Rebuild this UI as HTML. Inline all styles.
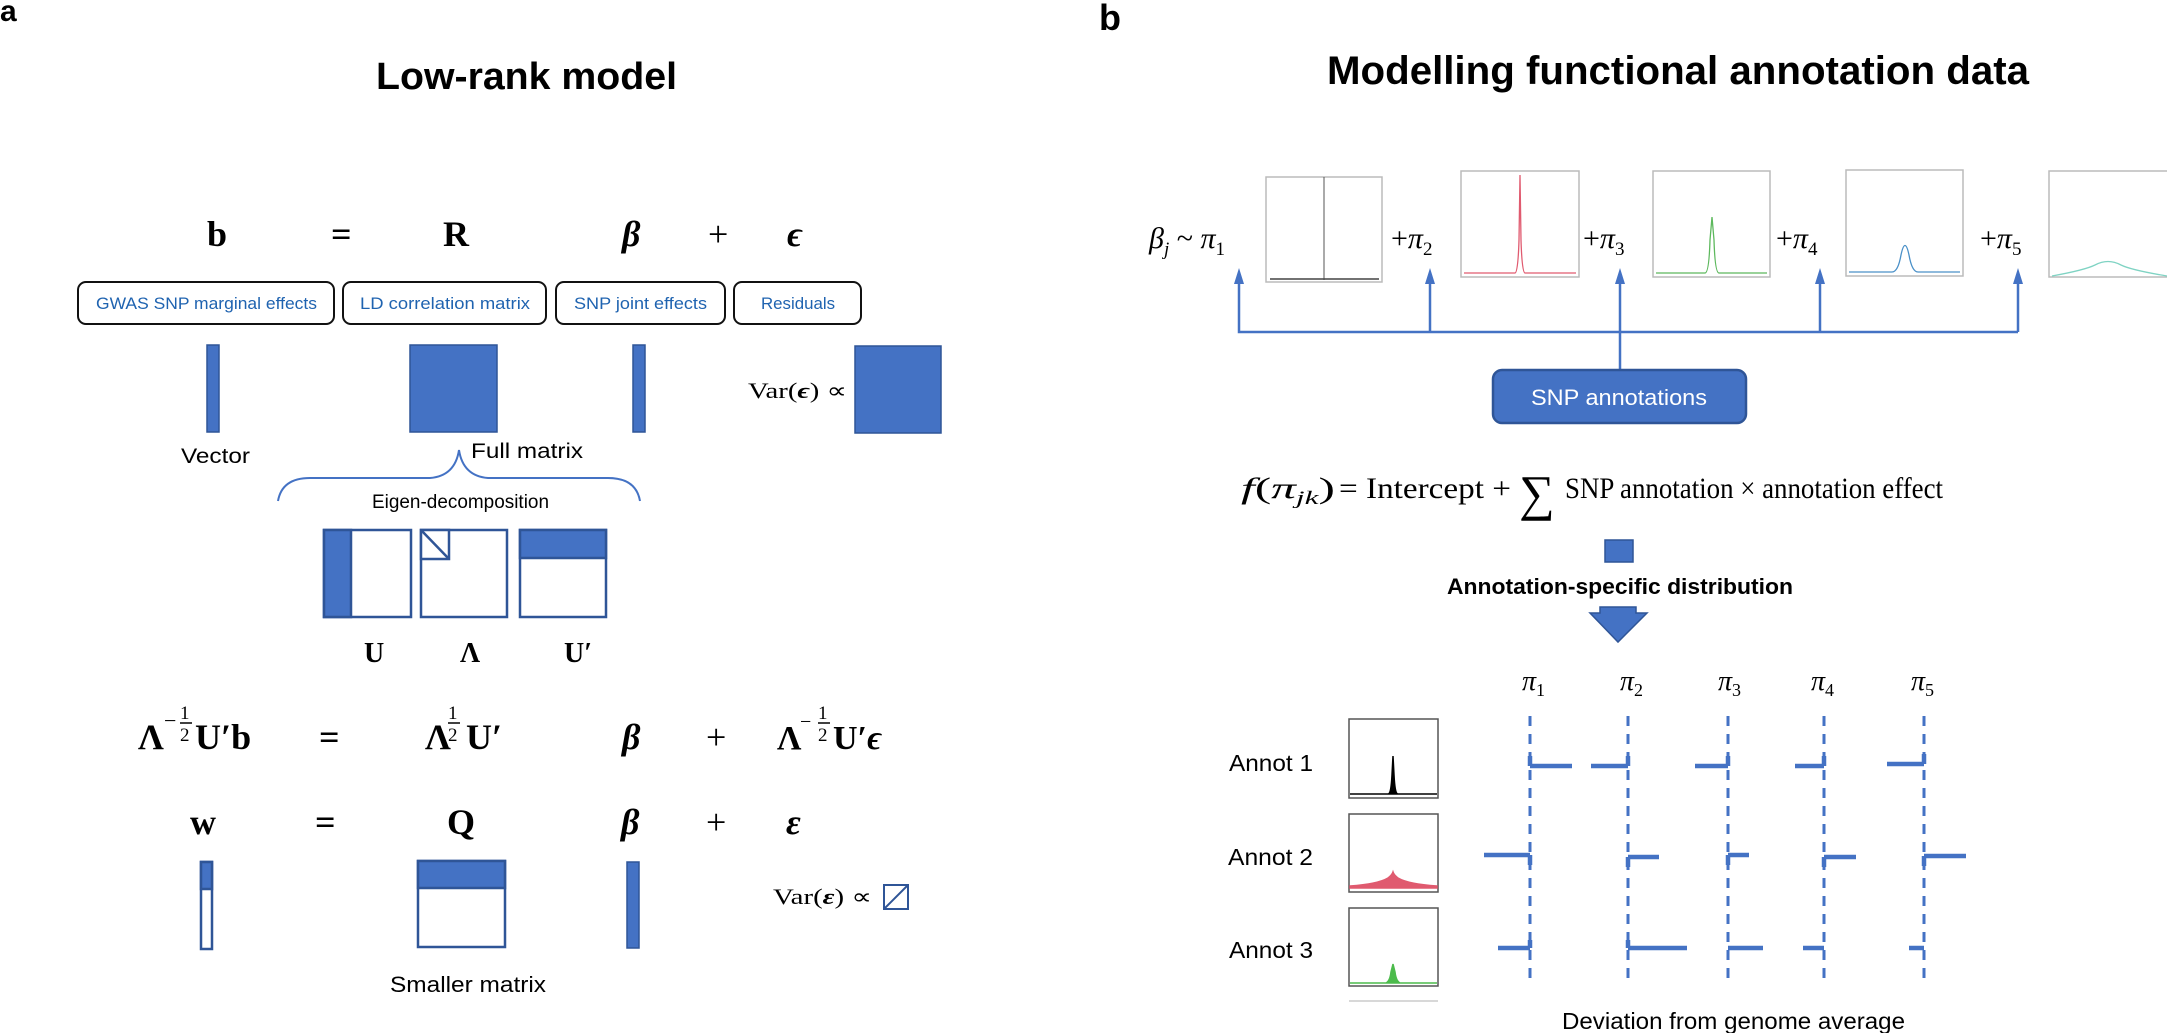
<!DOCTYPE html>
<html><head><meta charset="utf-8"><style>
html,body{margin:0;padding:0;background:#fff;}
svg{display:block;}
.sa{font-family:"Liberation Sans",sans-serif;}
.sr{font-family:"Liberation Serif",serif;}
</style></head><body>
<svg width="2167" height="1033" viewBox="0 0 2167 1033" xmlns="http://www.w3.org/2000/svg">
<!-- Panel labels & titles -->
<text class="sa" x="0" y="21" font-size="30" font-weight="bold">a</text>
<text class="sa" x="1099" y="30" font-size="36" font-weight="bold">b</text>
<text class="sa" x="376" y="89" font-size="38" font-weight="bold" textLength="301" lengthAdjust="spacingAndGlyphs">Low-rank model</text>
<text class="sa" x="1327" y="84" font-size="40" font-weight="bold" textLength="702" lengthAdjust="spacingAndGlyphs">Modelling functional annotation data</text>

<!-- Row 1 equation -->
<g class="sr" font-size="36" font-weight="bold">
<text x="207" y="246">b</text>
<text x="331" y="246">=</text>
<text x="443" y="246">R</text>
<text x="622" y="246" font-style="italic">β</text>
<text x="708" y="246" font-weight="normal">+</text>
<text x="787" y="246" font-style="italic">ϵ</text>
</g>
<!-- label boxes -->
<g fill="none" stroke="#111" stroke-width="2">
<rect x="78" y="282" width="256" height="42" rx="8"/>
<rect x="343" y="282" width="203" height="42" rx="8"/>
<rect x="556" y="282" width="169" height="42" rx="8"/>
<rect x="734" y="282" width="127" height="42" rx="8"/>
</g>
<g class="sa" font-size="17" fill="#1F63B0">
<text x="96" y="309" textLength="221" lengthAdjust="spacingAndGlyphs">GWAS SNP marginal effects</text>
<text x="360" y="309" textLength="170" lengthAdjust="spacingAndGlyphs">LD correlation matrix</text>
<text x="574" y="309" textLength="133" lengthAdjust="spacingAndGlyphs">SNP joint effects</text>
<text x="761" y="309" textLength="74" lengthAdjust="spacingAndGlyphs">Residuals</text>
</g>
<!-- row 1 shapes -->
<g fill="#4472C4" stroke="#2F5597" stroke-width="1.5">
<rect x="207" y="345" width="12" height="87"/>
<rect x="410" y="345" width="87" height="87"/>
<rect x="633" y="345" width="12" height="87"/>
<rect x="855" y="346" width="86" height="87"/>
</g>
<text class="sr" x="748" y="398" font-size="22" textLength="99" lengthAdjust="spacingAndGlyphs">Var(<tspan font-weight="bold" font-style="italic">ϵ</tspan>) ∝</text>
<text class="sa" x="181" y="463" font-size="21" textLength="69" lengthAdjust="spacingAndGlyphs">Vector</text>
<text class="sa" x="471" y="458" font-size="21" textLength="112" lengthAdjust="spacingAndGlyphs">Full matrix</text>
<!-- brace -->
<path d="M278,501 Q282,478 310,478 L430,478 Q455,476 459,450 Q463,476 488,478 L608,478 Q636,478 640,501" fill="none" stroke="#4472C4" stroke-width="2"/>
<text class="sa" x="372" y="508" font-size="19" textLength="177" lengthAdjust="spacingAndGlyphs">Eigen-decomposition</text>
<!-- eigen blocks -->
<g stroke="#2F5597" stroke-width="2.5">
<rect x="324" y="530" width="87" height="87" fill="#fff"/>
<rect x="324" y="530" width="27" height="87" fill="#4472C4"/>
<rect x="421" y="530" width="86" height="87" fill="#fff"/>
<rect x="421" y="530" width="28" height="29" fill="#fff"/>
<line x1="421" y1="530" x2="449" y2="559"/>
<rect x="520" y="530" width="86" height="87" fill="#fff"/>
<rect x="520" y="530" width="86" height="28" fill="#4472C4"/>
</g>
<g class="sr" font-size="28" font-weight="bold">
<text x="364" y="662">U</text>
<text x="460" y="662">Λ</text>
<text x="564" y="662">U′</text>
</g>
<!-- Row 3 equation -->
<g class="sr" font-weight="bold">
<text x="138" y="749" font-size="36">Λ</text>
<text x="164" y="728" font-size="22" font-weight="normal">−</text>
<text x="180" y="719" font-size="19" font-weight="normal">1</text>
<line x1="180" y1="723" x2="192" y2="723" stroke="#000" stroke-width="1.5"/>
<text x="180" y="741" font-size="19" font-weight="normal">2</text>
<text x="195" y="749" font-size="36">U′b</text>
<text x="319" y="749" font-size="36">=</text>
<text x="425" y="749" font-size="36">Λ</text>
<text x="448" y="719" font-size="19" font-weight="normal">1</text>
<line x1="448" y1="723" x2="460" y2="723" stroke="#000" stroke-width="1.5"/>
<text x="448" y="741" font-size="19" font-weight="normal">2</text>
<text x="466" y="749" font-size="36">U′</text>
<text x="622" y="749" font-size="36" font-style="italic">β</text>
<text x="706" y="749" font-size="36" font-weight="normal">+</text>
<text x="777" y="749" font-size="34">Λ</text>
<text x="800" y="728" font-size="20" font-weight="normal">−</text>
<text x="818" y="719" font-size="19" font-weight="normal">1</text>
<line x1="818" y1="723" x2="830" y2="723" stroke="#000" stroke-width="1.5"/>
<text x="818" y="741" font-size="19" font-weight="normal">2</text>
<text x="833" y="749" font-size="34">U′<tspan font-style="italic">ϵ</tspan></text>
</g>
<!-- Row 4 equation -->
<g class="sr" font-size="36" font-weight="bold">
<text x="190" y="834">w</text>
<text x="315" y="834">=</text>
<text x="447" y="834">Q</text>
<text x="621" y="834" font-style="italic">β</text>
<text x="706" y="834" font-weight="normal">+</text>
<text x="786" y="834" font-style="italic">ε</text>
</g>
<g stroke="#2F5597" stroke-width="2.5">
<rect x="201" y="862" width="11" height="87" fill="#fff"/>
<rect x="201" y="862" width="11" height="27" fill="#4472C4"/>
<rect x="418" y="861" width="87" height="86" fill="#fff"/>
<rect x="418" y="861" width="87" height="27" fill="#4472C4"/>
<rect x="627" y="862" width="12" height="86" fill="#4472C4" stroke-width="1.5"/>
<rect x="884" y="885" width="24" height="24" fill="#fff" stroke-width="2"/>
<line x1="884" y1="909" x2="908" y2="885" stroke-width="2"/>
</g>
<text class="sr" x="773" y="904" font-size="22" textLength="99" lengthAdjust="spacingAndGlyphs">Var(<tspan font-weight="bold" font-style="italic">ε</tspan>) ∝</text>
<text class="sa" x="390" y="992" font-size="22" textLength="156" lengthAdjust="spacingAndGlyphs">Smaller matrix</text>

<!-- ===== Panel b ===== -->
<g class="sr" font-size="30" font-style="italic">
<text x="1149" y="248">β<tspan font-size="19" dy="7">j</tspan><tspan dy="-7" font-style="normal"> ~ </tspan>π<tspan font-size="19" dy="7" font-style="normal">1</tspan></text>
<text x="1391" y="248"><tspan font-style="normal">+</tspan>π<tspan font-size="19" dy="7" font-style="normal">2</tspan></text>
<text x="1583" y="248"><tspan font-style="normal">+</tspan>π<tspan font-size="19" dy="7" font-style="normal">3</tspan></text>
<text x="1776" y="248"><tspan font-style="normal">+</tspan>π<tspan font-size="19" dy="7" font-style="normal">4</tspan></text>
<text x="1980" y="248"><tspan font-style="normal">+</tspan>π<tspan font-size="19" dy="7" font-style="normal">5</tspan></text>
</g>
<g fill="#fff" stroke="#bbb" stroke-width="1.5">
<rect x="1266" y="177" width="116" height="105"/>
<rect x="1461" y="171" width="118" height="106"/>
<rect x="1653" y="171" width="117" height="106"/>
<rect x="1846" y="170" width="117" height="106"/>
<rect x="2049" y="171" width="125" height="106"/>
</g>
<line x1="1324" y1="177" x2="1324" y2="280" stroke="#555" stroke-width="1"/>
<line x1="1270" y1="279" x2="1379" y2="279" stroke="#444" stroke-width="1.5"/>
<path d="M1464,273 L1515,273 Q1518,273 1519,240 L1520,175 L1521,240 Q1522,273 1525,273 L1576,273" fill="none" stroke="#E05A6F" stroke-width="1.3"/>
<path d="M1656,273 L1705,273 Q1709,273 1710,240 L1712,217 L1714,240 Q1715,273 1719,273 L1767,273" fill="none" stroke="#5CB85C" stroke-width="1.3"/>
<path d="M1849,272 L1892,272 Q1898,272 1901,255 Q1905,236 1909,255 Q1912,272 1918,272 L1960,272" fill="none" stroke="#4A90C8" stroke-width="1.3"/>
<path d="M2052,276 Q2085,270 2095,265 Q2108,258 2121,265 Q2131,270 2167,276" fill="none" stroke="#7FD3C3" stroke-width="1.3"/>
<!-- arrows -->
<g stroke="#4472C4" stroke-width="2.5" fill="none">
<polyline points="1239,282 1239,332 2018,332"/>
<line x1="1430" y1="282" x2="1430" y2="332"/>
<line x1="1620" y1="282" x2="1620" y2="370"/>
<line x1="1820" y1="282" x2="1820" y2="332"/>
<line x1="2018" y1="282" x2="2018" y2="332"/>
</g>
<g fill="#4472C4">
<polygon points="1239,268 1234,284 1244,284"/>
<polygon points="1430,268 1425,284 1435,284"/>
<polygon points="1620,268 1615,284 1625,284"/>
<polygon points="1820,268 1815,284 1825,284"/>
<polygon points="2018,268 2013,284 2023,284"/>
</g>
<rect x="1493" y="370" width="253" height="53" rx="9" fill="#4472C4" stroke="#2F5597" stroke-width="2.5"/>
<text class="sa" x="1531" y="405" font-size="22" fill="#fff" textLength="176" lengthAdjust="spacingAndGlyphs">SNP annotations</text>
<!-- f equation -->
<g class="sr" font-size="30">
<text x="1241" y="498" textLength="94" lengthAdjust="spacingAndGlyphs"><tspan font-style="italic">f</tspan>(<tspan font-style="italic">π</tspan><tspan font-size="19" dy="6" font-style="italic">jk</tspan><tspan dy="-6">)</tspan></text>
<text x="1339" y="498" textLength="172" lengthAdjust="spacingAndGlyphs">= Intercept +</text>
<text x="1519" y="510" font-size="50">∑</text>
<text x="1565" y="498" textLength="378" lengthAdjust="spacingAndGlyphs">SNP annotation × annotation effect</text>
</g>
<rect x="1605" y="540" width="28" height="22" fill="#4472C4" stroke="#2F5597" stroke-width="1.5"/>
<text class="sa" x="1447" y="594" font-size="22" font-weight="bold" textLength="346" lengthAdjust="spacingAndGlyphs">Annotation-specific distribution</text>
<polygon points="1600,607 1636,607 1636,613 1647,613 1618,642 1590,613 1600,613" fill="#4472C4" stroke="#2F5597" stroke-width="1.5"/>
<!-- pi labels -->
<g class="sr" font-size="28" font-style="italic">
<text x="1522" y="690">π<tspan font-size="18" dy="6" font-style="normal">1</tspan></text>
<text x="1620" y="690">π<tspan font-size="18" dy="6" font-style="normal">2</tspan></text>
<text x="1718" y="690">π<tspan font-size="18" dy="6" font-style="normal">3</tspan></text>
<text x="1811" y="690">π<tspan font-size="18" dy="6" font-style="normal">4</tspan></text>
<text x="1911" y="690">π<tspan font-size="18" dy="6" font-style="normal">5</tspan></text>
</g>
<!-- annot labels and plots -->
<g class="sa" font-size="23">
<text x="1229" y="771" textLength="84" lengthAdjust="spacingAndGlyphs">Annot 1</text>
<text x="1228" y="865" textLength="85" lengthAdjust="spacingAndGlyphs">Annot 2</text>
<text x="1229" y="958" textLength="84" lengthAdjust="spacingAndGlyphs">Annot 3</text>
</g>
<g fill="#fff" stroke="#555" stroke-width="1.5">
<rect x="1349" y="719" width="89" height="79"/>
<rect x="1349" y="814" width="89" height="78"/>
<rect x="1349" y="908" width="89" height="78"/>
</g>
<path d="M1350,794 L1388,794 Q1391,794 1392,775 L1393,756 L1394,775 Q1395,794 1398,794 L1437,794 Z" fill="#000" stroke="#000" stroke-width="1.5"/>
<path d="M1350,888 L1350,886 Q1378,884 1388,878 Q1392,875 1393,872 Q1394,875 1398,878 Q1408,884 1437,886 L1437,888 Z" fill="#E05A6F" stroke="#E05A6F" stroke-width="1.5"/>
<path d="M1350,983 L1386,983 Q1390,981 1391,972 L1393,964 L1395,972 Q1396,981 1400,983 L1437,983 Z" fill="#4CBB4C" stroke="#4CBB4C" stroke-width="1.5"/>
<line x1="1349" y1="1001" x2="1438" y2="1001" stroke="#ccc" stroke-width="1.5"/>
<!-- dashed lines -->
<g stroke="#4472C4" stroke-width="3" stroke-dasharray="10 8">
<line x1="1530" y1="716" x2="1530" y2="984"/>
<line x1="1628" y1="716" x2="1628" y2="984"/>
<line x1="1728" y1="716" x2="1728" y2="984"/>
<line x1="1824" y1="716" x2="1824" y2="984"/>
<line x1="1924" y1="716" x2="1924" y2="984"/>
</g>
<g stroke="#4472C4" stroke-width="4.5">
<line x1="1530" y1="766" x2="1572" y2="766"/><line x1="1530" y1="756" x2="1530" y2="766"/>
<line x1="1591" y1="766" x2="1628" y2="766"/><line x1="1628" y1="756" x2="1628" y2="766"/>
<line x1="1695" y1="766" x2="1728" y2="766"/><line x1="1728" y1="756" x2="1728" y2="766"/>
<line x1="1795" y1="766" x2="1824" y2="766"/><line x1="1824" y1="756" x2="1824" y2="766"/>
<line x1="1887" y1="764" x2="1924" y2="764"/><line x1="1924" y1="754" x2="1924" y2="764"/>
<line x1="1484" y1="855" x2="1530" y2="855"/><line x1="1530" y1="855" x2="1530" y2="865"/>
<line x1="1628" y1="857" x2="1659" y2="857"/><line x1="1628" y1="857" x2="1628" y2="867"/>
<line x1="1728" y1="855" x2="1749" y2="855"/><line x1="1728" y1="855" x2="1728" y2="865"/>
<line x1="1824" y1="857" x2="1856" y2="857"/><line x1="1824" y1="857" x2="1824" y2="867"/>
<line x1="1924" y1="856" x2="1966" y2="856"/><line x1="1924" y1="856" x2="1924" y2="866"/>
<line x1="1498" y1="948" x2="1530" y2="948"/><line x1="1530" y1="940" x2="1530" y2="948"/>
<line x1="1628" y1="948" x2="1687" y2="948"/><line x1="1628" y1="940" x2="1628" y2="948"/>
<line x1="1728" y1="948" x2="1763" y2="948"/>
<line x1="1803" y1="948" x2="1824" y2="948"/>
<line x1="1909" y1="948" x2="1924" y2="948"/>
</g>
<text class="sa" x="1562" y="1029" font-size="23" textLength="343" lengthAdjust="spacingAndGlyphs">Deviation from genome average</text>
</svg>
</body></html>
